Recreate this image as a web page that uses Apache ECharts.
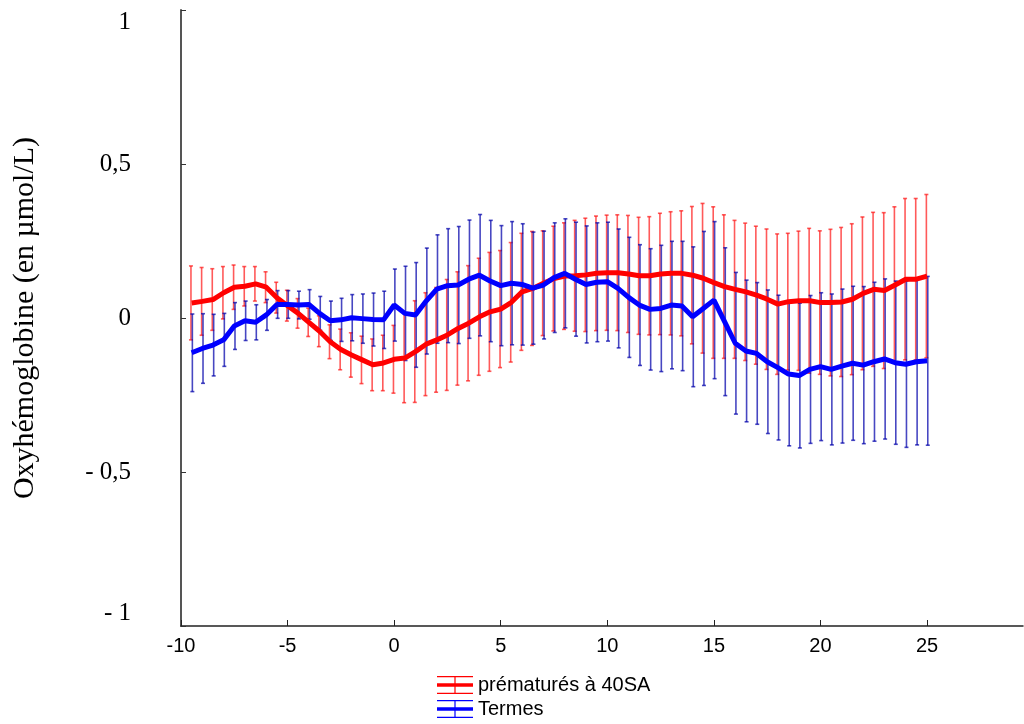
<!DOCTYPE html>
<html>
<head>
<meta charset="utf-8">
<script src="https://cdn.jsdelivr.net/npm/echarts@6/dist/echarts.min.js"></script>
<style>
html,body{margin:0;padding:0;background:#fff;}
#chart{width:1024px;height:724px;}
</style>
</head>
<body>
<div id="chart"></div>
<script>
// Time points (x axis)
const times = [-9.5,-9,-8.5,-8,-7.5,-7,-6.5,-6,-5.5,-5,-4.5,-4,-3.5,-3,-2.5,-2,-1.5,-1,-0.5,0,
  0.5,1,1.5,2,2.5,3,3.5,4,4.5,5,5.5,6,6.5,7,7.5,8,8.5,9,9.5,10,
  10.5,11,11.5,12,12.5,13,13.5,14,14.5,15,15.5,16,16.5,17,17.5,18,18.5,19,19.5,20,
  20.5,21,21.5,22,22.5,23,23.5,24,24.5,25];

// Prématurés à 40SA : mean and error half-width
const premMean = [0.049,0.054,0.060,0.082,0.100,0.103,0.111,0.100,0.066,0.040,
  0.015,-0.014,-0.043,-0.077,-0.102,-0.120,-0.136,-0.152,-0.146,-0.134,
  -0.130,-0.109,-0.085,-0.071,-0.055,-0.034,-0.017,0.004,0.020,0.029,
  0.051,0.085,0.096,0.113,0.128,0.136,0.137,0.140,0.145,0.147,
  0.147,0.143,0.137,0.137,0.143,0.145,0.145,0.139,0.129,0.115,
  0.102,0.093,0.085,0.074,0.061,0.045,0.053,0.056,0.056,0.050,
  0.050,0.052,0.061,0.080,0.093,0.089,0.107,0.126,0.126,0.136];
const premErr = [0.120,0.110,0.100,0.085,0.072,0.064,0.056,0.050,0.050,0.050,
  0.048,0.046,0.050,0.055,0.066,0.072,0.077,0.084,0.090,0.110,
  0.145,0.165,0.167,0.170,0.180,0.184,0.187,0.190,0.193,0.190,
  0.194,0.190,0.185,0.170,0.170,0.173,0.180,0.184,0.186,0.187,
  0.188,0.190,0.190,0.192,0.197,0.200,0.203,0.223,0.243,0.246,
  0.233,0.224,0.223,0.224,0.228,0.228,0.222,0.226,0.235,0.233,
  0.238,0.242,0.245,0.248,0.250,0.253,0.254,0.262,0.262,0.265];

// Termes : mean and error half-width
const termMean = [-0.113,-0.099,-0.088,-0.071,-0.026,-0.009,-0.014,0.010,0.044,0.044,
  0.042,0.044,0.015,-0.009,-0.006,0.001,-0.002,-0.005,-0.006,0.042,
  0.015,0.010,0.055,0.094,0.105,0.107,0.126,0.139,0.120,0.105,
  0.113,0.109,0.097,0.107,0.131,0.145,0.126,0.109,0.116,0.118,
  0.096,0.067,0.042,0.028,0.031,0.042,0.039,0.004,0.031,0.058,
  -0.012,-0.082,-0.107,-0.115,-0.142,-0.161,-0.182,-0.187,-0.167,-0.158,
  -0.167,-0.156,-0.147,-0.153,-0.142,-0.133,-0.145,-0.150,-0.142,-0.139];
const termErr = [0.126,0.113,0.100,0.086,0.076,0.064,0.057,0.050,0.045,0.045,
  0.045,0.048,0.055,0.064,0.070,0.075,0.080,0.086,0.093,0.117,
  0.153,0.170,0.172,0.176,0.185,0.190,0.192,0.197,0.197,0.195,
  0.200,0.197,0.182,0.175,0.178,0.177,0.185,0.190,0.193,0.193,
  0.193,0.195,0.196,0.197,0.205,0.207,0.210,0.227,0.250,0.255,
  0.240,0.230,0.230,0.230,0.233,0.235,0.233,0.235,0.240,0.240,
  0.245,0.250,0.250,0.255,0.258,0.260,0.265,0.270,0.270,0.274];

const seriesNames = ['prématurés à 40SA', 'Termes'];
const yTickLabels = {'1':'1','0.5':'0,5','0':'0','-0.5':'- 0,5','-1':'- 1'};

const legendIcon = 'path://M0,0H36V1.2H0Z M0,7.3H36V10.7H0Z M0,16.8H36V18H0Z M17.4,0H18.6V18H17.4Z';

function lineData(mean){ return times.map((t,i)=>[t, mean[i]]); }
function errData(mean, err){ return times.map((t,i)=>[t, mean[i]-err[i], mean[i]+err[i]]); }

function errRenderer(color, dx){
  return function(params, api){
    const x = api.value(0), lo = api.value(1), hi = api.value(2);
    const a = api.coord([x, lo]), b = api.coord([x, hi]);
    const px = a[0] + dx;
    const st = {stroke: color, lineWidth: 1.6};
    const cw = 2;
    return {type:'group', children:[
      {type:'line', shape:{x1:px, y1:a[1], x2:px, y2:b[1]}, style:st},
      {type:'line', shape:{x1:px-cw, y1:a[1], x2:px+cw, y2:a[1]}, style:st},
      {type:'line', shape:{x1:px-cw, y1:b[1], x2:px+cw, y2:b[1]}, style:st}
    ]};
  };
}

const legendText = {fontFamily:'Liberation Sans, Arial', fontSize:20, color:'#000'};

const chart = echarts.init(document.getElementById('chart'), null, {renderer:'canvas'});
chart.setOption({
  backgroundColor:'#fff',
  animation:false,
  grid:{left:181, right:1, top:10, bottom:98, containLabel:false},
  legend:[
    {left:437, top:675, itemWidth:36, itemHeight:18, padding:0, textStyle:legendText,
      data:[{name:seriesNames[0], icon:legendIcon}]},
    {left:437, top:699, itemWidth:36, itemHeight:18, padding:0, textStyle:legendText,
      data:[{name:seriesNames[1], icon:legendIcon}]}
  ],
  xAxis:{
    type:'value', min:-10, max:29.5, interval:5,
    axisLine:{show:true, onZero:false, lineStyle:{color:'#222', width:1.5}},
    axisTick:{show:true, inside:true, length:6, lineStyle:{color:'#222', width:1}},
    axisLabel:{fontFamily:'Liberation Sans, Arial', fontSize:20, color:'#000', margin:10,
      showMaxLabel:false},
    splitLine:{show:false}
  },
  yAxis:{
    type:'value', min:-1, max:1, interval:0.5,
    name:'Oxyhémoglobine (en µmol/L)', nameLocation:'middle', nameGap:141,
    nameTextStyle:{fontFamily:'Liberation Serif, Times New Roman, serif', fontSize:30, color:'#000'},
    axisLine:{show:true, onZero:false, lineStyle:{color:'#555', width:2}},
    axisTick:{show:true, inside:true, length:5, lineStyle:{color:'#333', width:1}},
    axisLabel:{fontFamily:'Liberation Serif, Times New Roman, serif', fontSize:25, color:'#000', margin:50,
      verticalAlignMaxLabel:'top', verticalAlignMinLabel:'bottom',
      formatter:function(v){ const k = String(Math.round(v*10)/10); return yTickLabels[k] !== undefined ? yTickLabels[k] : k; }},
    splitLine:{show:false}
  },
  series:[
    {type:'custom', name:'errPrem', renderItem:errRenderer('rgba(255,20,20,0.7)', -0.7), data:errData(premMean, premErr), z:1, silent:true},
    {type:'custom', name:'errTerm', renderItem:errRenderer('rgba(0,0,170,0.72)', 0.7), data:errData(termMean, termErr), z:1, silent:true},
    {type:'line', name:seriesNames[0], data:lineData(premMean), showSymbol:false, symbol:'none',
      lineStyle:{color:'#ff0000', width:5}, itemStyle:{color:'#ff0000'}, z:3},
    {type:'line', name:seriesNames[1], data:lineData(termMean), showSymbol:false, symbol:'none',
      lineStyle:{color:'#0000ff', width:5}, itemStyle:{color:'#0000ff'}, z:4}
  ]
});
</script>
</body>
</html>
